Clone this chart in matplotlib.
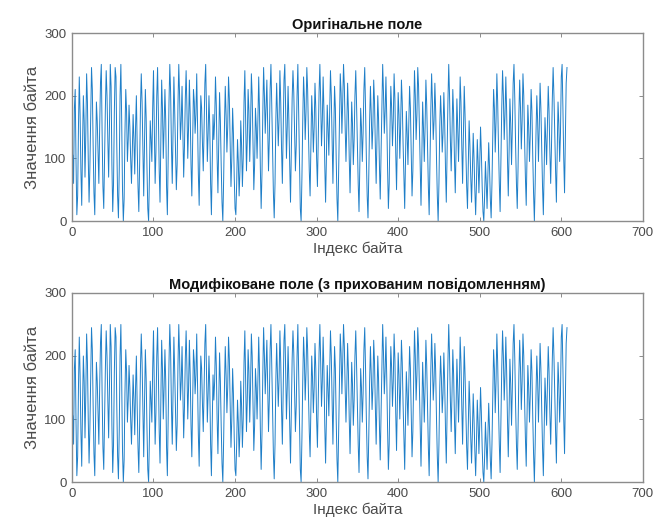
import matplotlib
matplotlib.use("Agg")
import matplotlib.pyplot as plt
import numpy as np

plt.rcParams['font.family'] = ['Liberation Sans', 'DejaVu Sans']

# byte values (estimated, 607 bytes)
original_bytes = [
    105, 60, 180, 210, 95, 10, 40, 150, 230, 170, 80, 25, 120, 200, 160, 70, 140, 235, 190, 100,
    30, 85, 170, 245, 210, 120, 45, 10, 95, 190, 160, 110, 60, 150, 220, 250, 140, 55, 20, 100,
    180, 240, 200, 130, 70, 150, 250, 215, 90, 15, 60, 175, 245, 230, 120, 40, 5, 80, 200, 250,
    160, 50, 0, 35, 140, 210, 175, 95, 130, 185, 150, 100, 60, 110, 170, 130, 75, 150, 200, 120,
    55, 15, 90, 180, 235, 190, 110, 40, 120, 210, 165, 85, 20, 0, 70, 160, 130, 95, 180, 240,
    150, 60, 110, 200, 245, 170, 80, 30, 130, 225, 180, 100, 150, 210, 160, 55, 10, 95, 190, 250,
    205, 120, 60, 140, 230, 175, 110, 50, 90, 185, 250, 200, 130, 160, 215, 145, 70, 120, 195, 240,
    180, 100, 150, 225, 170, 90, 40, 130, 210, 190, 140, 170, 235, 160, 75, 25, 110, 200, 180, 125,
    80, 145, 220, 250, 175, 95, 140, 200, 150, 60, 10, 85, 170, 130, 160, 230, 185, 100, 45, 120,
    205, 160, 90, 30, 0, 65, 150, 215, 170, 110, 150, 230, 195, 120, 55, 100, 180, 140, 70, 20,
    10, 60, 130, 95, 40, 80, 160, 120, 55, 100, 190, 240, 160, 80, 130, 210, 175, 95, 150, 235,
    200, 120, 50, 90, 180, 150, 100, 160, 230, 175, 85, 20, 75, 170, 245, 200, 140, 180, 225, 155,
    80, 130, 210, 250, 185, 110, 45, 5, 60, 160, 220, 170, 120, 165, 240, 190, 115, 60, 140, 225,
    250, 180, 100, 150, 215, 160, 90, 30, 110, 195, 240, 205, 140, 80, 120, 200, 250, 170, 85, 20,
    0, 70, 160, 230, 195, 130, 175, 245, 210, 140, 80, 40, 120, 200, 165, 110, 150, 220, 180, 100,
    55, 130, 205, 250, 190, 120, 160, 230, 175, 90, 30, 100, 185, 150, 105, 170, 240, 200, 125, 60,
    140, 215, 180, 100, 35, 0, 80, 165, 235, 205, 140, 190, 250, 215, 150, 95, 150, 220, 175, 100,
    45, 110, 190, 155, 90, 130, 200, 240, 185, 120, 60, 15, 90, 180, 150, 95, 140, 210, 245, 180,
    100, 40, 5, 75, 160, 215, 170, 115, 150, 225, 190, 120, 60, 130, 200, 160, 90, 35, 110, 190,
    250, 205, 140, 175, 230, 165, 85, 20, 60, 150, 215, 180, 120, 160, 235, 195, 110, 50, 130, 205,
    170, 100, 150, 225, 190, 125, 70, 20, 95, 175, 140, 90, 150, 215, 180, 110, 40, 80, 165, 240,
    200, 130, 170, 245, 215, 150, 80, 25, 100, 190, 150, 95, 150, 225, 185, 120, 55, 10, 90, 175,
    235, 190, 130, 160, 220, 175, 100, 40, 0, 60, 150, 200, 165, 110, 140, 205, 160, 85, 30, 110,
    190, 250, 200, 130, 80, 140, 210, 170, 100, 45, 115, 195, 150, 95, 150, 230, 190, 120, 60, 135,
    215, 170, 110, 55, 20, 90, 160, 120, 70, 30, 80, 140, 100, 50, 10, 60, 130, 95, 45, 90,
    150, 110, 55, 15, 0, 40, 95, 60, 20, 70, 125, 85, 35, 5, 60, 140, 210, 180, 110, 160,
    235, 190, 120, 60, 15, 95, 180, 240, 200, 130, 170, 230, 175, 100, 40, 110, 195, 155, 90, 150,
    220, 250, 195, 120, 60, 20, 85, 170, 225, 180, 115, 160, 235, 200, 130, 70, 25, 100, 185, 150,
    95, 140, 210, 175, 105, 45, 0, 60, 140, 200, 160, 95, 150, 220, 180, 115, 55, 10, 80, 165,
    130, 90, 150, 215, 175, 110, 60, 120, 195, 245, 200, 140, 80, 30, 110, 190, 155, 95, 140, 230,
    250, 180, 100, 45, 130, 220, 245,
]
# LSB changes are not visible at this scale, so the modified field looks the same
modified_bytes = list(original_bytes)

titles = ['Оригінальне поле', 'Модифіковане поле (з прихованим повідомленням)']
x_ticks = [0, 100, 200, 300, 400, 500, 600, 700]
y_ticks = [0, 100, 200, 300]

line_color = '#1f7fc8'
axis_color = '#8c8c8c'
text_color = '#4a4a4a'

fig = plt.figure(figsize=(6.6, 5.28), dpi=100)
ax_top = fig.add_axes([0.109, 0.5814, 0.865, 0.356])
ax_bot = fig.add_axes([0.109, 0.0871, 0.865, 0.358])

for ax, data, title in zip([ax_top, ax_bot], [original_bytes, modified_bytes], titles):
    ax.plot(np.arange(1, len(data) + 1), data, color=line_color, linewidth=0.7)
    ax.set_xlim(0, 700)
    ax.set_ylim(0, 300)
    ax.set_xticks(x_ticks)
    ax.set_yticks(y_ticks)
    ax.tick_params(direction='in', length=3, width=0.7, top=True, right=True,
                   colors=axis_color, labelcolor=text_color, labelsize=9.5, pad=4)
    for spine in ax.spines.values():
        spine.set_color(axis_color)
        spine.set_linewidth(1.0)
    ax.set_title(title, fontsize=10.5, fontweight='bold', color='#111111', pad=3)
    ax.set_xlabel('Індекс байта', fontsize=11, color=text_color, labelpad=2)
    ax.set_ylabel('Значення байта', fontsize=12, color=text_color, labelpad=3)

fig.savefig('out.png', dpi=100)
